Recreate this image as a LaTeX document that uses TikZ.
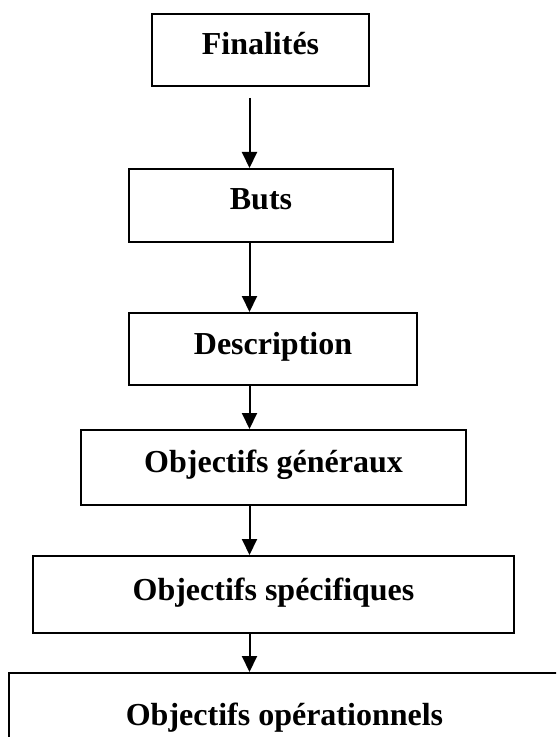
\documentclass[tikz,border=0pt]{standalone}
\usepackage{fontspec}
\setmainfont{Liberation Serif}
\usetikzlibrary{positioning, arrows.meta}
\tikzset{
  etape/.style={draw, line width=1pt, inner sep=0pt,
    font=\bfseries\fontsize{16}{19}\selectfont,
    text height=20.5pt, text depth=15.5pt},
  fleche/.style={-{Triangle[length=8pt,width=7.5pt]}, line width=1pt}
}

\begin{document}
\begin{tikzpicture}[x=0.5pt, y=-0.5pt]
\useasboundingbox (0,0) rectangle (556,737);
\clip (0,0) rectangle (556,737);
\coordinate (axe) at (249.5,0); % axis of the arrows
\node[etape, minimum width=108.5pt] (fin) at (260.5,50) {Finalités};
\node[etape, minimum width=132pt, text depth=16pt] (buts) at (261,205.5) {Buts};
\node[etape, minimum width=144pt] (desc) at (273,349) {Description};
\node[etape, minimum width=192.5pt, text height=21pt, text depth=16.5pt] (gen) at (273.5,467.5) {Objectifs généraux};
\node[etape, minimum width=240.5pt, text height=22pt, text depth=16.5pt] (spec) at (273.5,594.5) {Objectifs spécifiques};
\node[etape, minimum width=275.5pt, text height=26pt, text depth=19pt] (oper) at (284.5,718) {Objectifs opérationnels};
\draw[fleche, shorten <=5.5pt] (fin.south -| axe) -- (buts.north -| axe);
\draw[fleche] (buts.south -| axe) -- (desc.north -| axe);
\draw[fleche] (desc.south -| axe) -- (gen.north -| axe);
\draw[fleche] (gen.south -| axe) -- (spec.north -| axe);
\draw[fleche] (spec.south -| axe) -- (oper.north -| axe);
\end{tikzpicture}
\end{document}
